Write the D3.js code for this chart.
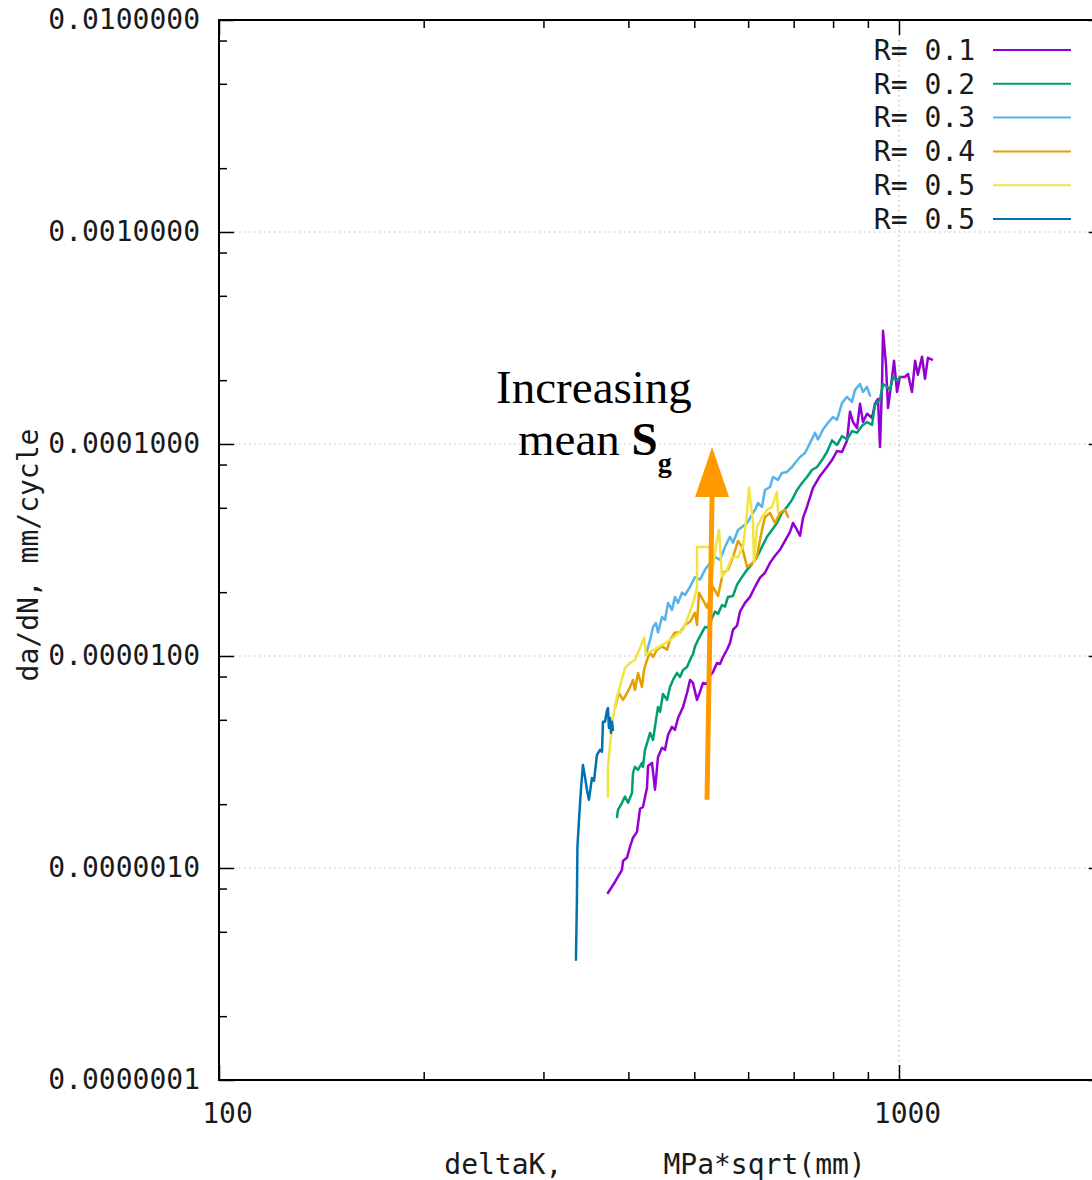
<!DOCTYPE html>
<html>
<head>
<meta charset="utf-8">
<script src="https://cdn.jsdelivr.net/npm/d3@7"></script>
<style>
  html, body { margin: 0; padding: 0; background: #fff; }
  svg { display: block; }
</style>
</head>
<body>
<svg id="chart" width="1092" height="1180"></svg>
<script>
// Fatigue crack growth rate vs stress intensity range, one series per load ratio R.
const seriesLabels = ["R= 0.1", "R= 0.2", "R= 0.3", "R= 0.4", "R= 0.5", "R= 0.5"];
const seriesColors = ["#9400d3", "#009e73", "#56b4e9", "#e69f00", "#f0e442", "#0072b2"];

// deltaK (MPa*sqrt(mm)) and da/dN (mm/cycle)
const deltaK_R01 = [373.2,382.2,391.4,392.8,398.2,402.2,406.3,411.8,416.0,420.2,426.0,427.5,433.3,437.7,442.2,448.2,452.8,457.4,463.6,468.3,473.2,481.3,487.8,492.8,497.8,504.6,509.7,514.9,521.9,527.3,532.7,539.9,545.5,551.0,558.5,564.2,570.0,577.9,583.7,593.6,603.8,614.1,624.6,635.2,646.1,657.1,668.3,679.7,691.4,698.4,708.0,715.2,722.5,732.3,747.3,765.3,783.6,797.0,810.6,824.5,838.6,847.1,855.7,867.5,876.3,885.2,897.3,912.7,921.9,931.4,937.7,944.1,947.3,957.0,963.5,976.6,983.3,993.3,1003,1020,1031,1045,1056,1066,1081,1092,1103,1118];
const dadN_R01 = [7.62e-7,8.59e-7,9.79e-7,1.08e-6,1.12e-6,1.26e-6,1.39e-6,1.48e-6,1.90e-6,1.94e-6,2.39e-6,3.03e-6,3.13e-6,2.34e-6,3.34e-6,3.69e-6,3.61e-6,4.24e-6,4.63e-6,4.48e-6,5.10e-6,5.75e-6,6.69e-6,7.71e-6,7.46e-6,6.21e-6,6.77e-6,7.46e-6,7.38e-6,8.05e-6,8.40e-6,9.27e-6,9.17e-6,9.89e-6,1.07e-5,1.15e-5,1.33e-5,1.39e-5,1.62e-5,1.78e-5,1.90e-5,2.12e-5,2.34e-5,2.47e-5,2.75e-5,2.97e-5,3.17e-5,3.49e-5,3.85e-5,4.24e-5,3.93e-5,3.69e-5,4.48e-5,5.05e-5,6.21e-5,7.07e-5,7.79e-5,8.40e-5,9.27e-5,9.17e-5,1.04e-4,1.42e-4,1.27e-4,1.19e-4,1.55e-4,1.27e-4,1.39e-4,1.33e-4,1.55e-4,1.63e-4,9.68e-5,1.90e-4,3.42e-4,2.36e-4,1.48e-4,2.05e-4,2.47e-4,1.76e-4,2.07e-4,2.07e-4,2.14e-4,1.76e-4,2.47e-4,2.12e-4,2.58e-4,2.03e-4,2.55e-4,2.50e-4];

const deltaK_R02 = [384.9,386.1,391.4,395.4,399.5,404.9,406.3,409.0,413.2,418.8,420.2,423.1,427.5,430.4,434.8,439.2,442.2,445.2,449.7,455.9,460.5,465.2,471.6,476.4,481.3,487.8,492.8,497.8,501.2,506.3,513.2,518.4,523.7,530.9,536.3,541.8,549.2,554.8,560.4,570.0,577.9,587.7,597.7,609.9,618.3,628.8,639.6,650.5,661.6,672.8,684.4,696.1,708.0,720.1,732.3,744.8,757.6,770.5,783.6,797.0,810.6,824.5,838.6,852.9,867.5,882.3,897.3,912.7,921.9,937.7,947.3,960.2,970.0,979.9,993.3,1003];
const dadN_R02 = [1.74e-6,1.88e-6,2.03e-6,2.17e-6,2.03e-6,2.26e-6,2.81e-6,3.00e-6,2.90e-6,3.13e-6,3.00e-6,3.61e-6,4.02e-6,4.34e-6,4.02e-6,5.00e-6,5.75e-6,5.45e-6,6.62e-6,6.21e-6,7.14e-6,7.71e-6,8.32e-6,7.96e-6,8.59e-6,8.87e-6,9.58e-6,1.02e-5,1.11e-5,1.19e-5,1.29e-5,1.37e-5,1.36e-5,1.51e-5,1.62e-5,1.58e-5,1.74e-5,1.71e-5,1.90e-5,1.92e-5,2.17e-5,2.36e-5,2.55e-5,2.75e-5,2.93e-5,3.27e-5,3.65e-5,3.93e-5,4.24e-5,4.73e-5,5.05e-5,5.45e-5,6.07e-5,6.55e-5,6.99e-5,7.54e-5,7.79e-5,8.40e-5,9.17e-5,1.04e-4,9.89e-5,1.09e-4,1.05e-4,1.15e-4,1.13e-4,1.22e-4,1.27e-4,1.23e-4,1.53e-4,1.62e-4,1.92e-4,1.86e-4,1.80e-4,2.07e-4,1.99e-4,2.07e-4];

const deltaK_R03 = [424.6,430.4,434.8,439.2,442.2,448.2,452.8,457.4,463.6,468.3,473.2,479.6,484.5,492.8,501.2,509.7,518.4,527.3,536.3,545.5,554.8,564.2,570.0,579.8,587.7,597.7,609.9,614.1,620.4,628.8,635.2,646.1,652.7,663.8,672.8,684.4,696.1,703.2,715.2,727.4,739.8,752.4,760.1,773.1,786.2,799.7,810.6,824.5,838.6,852.9,861.5,876.3,885.2,897.3,906.5];
const dadN_R03 = [1.02e-5,1.19e-5,1.37e-5,1.43e-5,1.29e-5,1.53e-5,1.48e-5,1.78e-5,1.65e-5,1.90e-5,1.78e-5,1.99e-5,1.94e-5,2.12e-5,2.36e-5,2.29e-5,2.55e-5,2.75e-5,2.93e-5,2.84e-5,3.27e-5,3.65e-5,3.42e-5,3.93e-5,4.06e-5,4.24e-5,4.73e-5,4.89e-5,5.27e-5,5.05e-5,6.07e-5,6.27e-5,6.99e-5,6.77e-5,7.30e-5,7.38e-5,7.79e-5,8.14e-5,8.68e-5,9.07e-5,1.01e-4,1.13e-4,1.05e-4,1.17e-4,1.26e-4,1.34e-4,1.30e-4,1.56e-4,1.67e-4,1.58e-4,1.80e-4,1.92e-4,1.76e-4,1.86e-4,1.69e-4];

const deltaK_R04 = [382.2,384.8,387.5,392.8,398.2,402.2,406.3,409.0,413.2,418.8,421.7,426.0,430.4,434.8,440.7,448.2,455.9,460.5,468.3,476.4,484.5,492.8,501.2,504.6,508.0,514.9,521.9,527.3,532.7,541.8,551.0,560.4,570.0,579.8,587.7,597.7,609.9,618.3,628.8,635.2,646.1,657.1,668.3,679.7,686.7];
const dadN_R04 = [5.69e-6,6.21e-6,6.69e-6,6.21e-6,6.69e-6,7.14e-6,7.71e-6,6.92e-6,8.32e-6,7.14e-6,8.59e-6,9.58e-6,1.04e-5,9.89e-6,1.07e-5,1.11e-5,1.07e-5,1.19e-5,1.29e-5,1.29e-5,1.40e-5,1.45e-5,1.60e-5,1.40e-5,1.99e-5,1.84e-5,1.69e-5,1.88e-5,2.12e-5,1.92e-5,2.47e-5,2.55e-5,2.93e-5,3.49e-5,3.27e-5,2.63e-5,2.75e-5,2.97e-5,3.93e-5,4.53e-5,4.73e-5,4.24e-5,4.73e-5,4.89e-5,4.53e-5];

const deltaK_R05a = [373.2,373.2,375.8,379.6,382.2,384.8,387.5,395.4,402.2,409.0,416.0,421.7,424.6,430.4,440.7,460.5,481.3,492.8,499.5,504.6,504.6,527.3,530.9,538.2,543.7,549.2,558.5,568.0,579.8,589.6,597.7,601.8,609.9,612.0,618.3,628.8,639.6,650.5,661.6,663.8];
const dadN_R05a = [2.17e-6,2.97e-6,3.81e-6,5.10e-6,5.75e-6,6.41e-6,6.92e-6,8.78e-6,9.27e-6,9.58e-6,1.09e-5,1.22e-5,1.01e-5,1.05e-5,1.09e-5,1.19e-5,1.33e-5,1.62e-5,1.84e-5,2.10e-5,3.27e-5,3.27e-5,2.47e-5,3.34e-5,3.93e-5,2.36e-5,2.55e-5,2.93e-5,2.93e-5,3.27e-5,4.73e-5,6.21e-5,4.24e-5,2.75e-5,4.06e-5,4.53e-5,4.89e-5,5.05e-5,5.94e-5,4.78e-5];

const deltaK_R05b = [334.9,336.0,336.6,338.4,340.6,342.9,345.3,347.6,350.0,353.6,356.0,359.6,363.3,365.8,367.0,369.5,371.9,373.2,374.5,375.8,377.1,378.3,379.6];
const dadN_R05b = [3.69e-7,7.07e-7,1.26e-6,1.69e-6,2.34e-6,3.06e-6,2.69e-6,2.34e-6,2.10e-6,2.66e-6,2.58e-6,3.42e-6,3.61e-6,3.53e-6,4.89e-6,4.89e-6,5.51e-6,5.69e-6,4.58e-6,5.10e-6,4.34e-6,4.89e-6,4.48e-6];

// Axis ticks
const xMajorTicks = [100, 1000];
const xTickLabels = ["100", "1000"];
const xMinorTicks = [200, 300, 400, 500, 600, 700, 800, 900];
const yMajorTicks = [1e-2, 1e-3, 1e-4, 1e-5, 1e-6, 1e-7];
const yTickLabels = ["0.0100000", "0.0010000", "0.0001000", "0.0000100", "0.0000010", "0.0000001"];
const yMinorTicks = [8e-3, 5e-3, 2e-3, 8e-4, 5e-4, 2e-4, 8e-5, 5e-5, 2e-5, 8e-6, 5e-6, 2e-6, 8e-7, 5e-7, 2e-7];
const xGridTicks = [1000];
const yGridTicks = [1e-3, 1e-4, 1e-5, 1e-6];

// Annotation: arrow and caption placed in data coordinates
const arrowTail = [522, 2.1e-6];
const arrowHeadBase = [531, 5.63e-5];
const arrowTip = [531, 9.68e-5];
const captionLine1 = [356, 1.56e-4];
const captionLine2 = [275.3, 8.87e-5];

const series = [
  [deltaK_R01, dadN_R01], [deltaK_R02, dadN_R02], [deltaK_R03, dadN_R03],
  [deltaK_R04, dadN_R04], [deltaK_R05a, dadN_R05a], [deltaK_R05b, dadN_R05b]
].map(([k, r], i) => ({
  label: seriesLabels[i],
  color: seriesColors[i],
  points: k.map((v, j) => [v, r[j]])
}));

const mono = "'DejaVu Sans Mono', monospace";
const svg = d3.select("#chart");

const plotLeft = 219, plotTop = 20, plotBottom = 1080;
const x = d3.scaleLog().domain([100, 2000]).range([plotLeft, plotLeft + 680 * Math.log10(20)]);
const y = d3.scaleLog().domain([1e-7, 1e-2]).range([plotBottom, plotTop]);
const plotRight = x.range()[1];

// grid
const grid = svg.append("g")
  .attr("stroke", "#bdbdbd")
  .attr("stroke-width", 1.2)
  .attr("stroke-dasharray", "1.5 3.5");
grid.selectAll("line.gy").data(yGridTicks).join("line")
  .attr("x1", plotLeft).attr("x2", plotRight)
  .attr("y1", d => y(d)).attr("y2", d => y(d));
grid.selectAll("line.gx").data(xGridTicks).join("line")
  .attr("x1", d => x(d)).attr("x2", d => x(d))
  .attr("y1", plotTop).attr("y2", plotBottom);

// axes and mirrored ticks
function styleAxis(g) {
  g.select(".domain").remove();
  g.selectAll("line").attr("stroke", "#000").attr("stroke-width", 1.5);
  g.attr("font-family", mono).attr("font-size", 28);
  g.selectAll("text").attr("fill", "#1a1a1a");
}
svg.append("g").attr("transform", `translate(0,${plotBottom})`)
  .call(d3.axisBottom(x).tickValues(xMajorTicks).tickFormat((d, i) => xTickLabels[i])
    .tickSizeInner(-15).tickSizeOuter(0).tickPadding(23))
  .call(styleAxis)
  .call(g => g.selectAll("text").attr("dx", 8));
svg.append("g").attr("transform", `translate(0,${plotBottom})`)
  .call(d3.axisBottom(x).tickValues(xMinorTicks).tickFormat("").tickSizeInner(-8).tickSizeOuter(0))
  .call(styleAxis);
svg.append("g").attr("transform", `translate(0,${plotTop})`)
  .call(d3.axisTop(x).tickValues(xMajorTicks).tickFormat("").tickSizeInner(-15).tickSizeOuter(0))
  .call(styleAxis);
svg.append("g").attr("transform", `translate(0,${plotTop})`)
  .call(d3.axisTop(x).tickValues(xMinorTicks).tickFormat("").tickSizeInner(-8).tickSizeOuter(0))
  .call(styleAxis);

svg.append("g").attr("transform", `translate(${plotLeft},0)`)
  .call(d3.axisLeft(y).tickValues(yMajorTicks).tickFormat((d, i) => yTickLabels[i])
    .tickSizeInner(-15).tickSizeOuter(0).tickPadding(19))
  .call(styleAxis);
svg.append("g").attr("transform", `translate(${plotLeft},0)`)
  .call(d3.axisLeft(y).tickValues(yMinorTicks).tickFormat("").tickSizeInner(-8).tickSizeOuter(0))
  .call(styleAxis);
svg.append("g").attr("transform", `translate(${plotRight},0)`)
  .call(d3.axisRight(y).tickValues(yMajorTicks).tickFormat("").tickSizeInner(-15).tickSizeOuter(0))
  .call(styleAxis);
svg.append("g").attr("transform", `translate(${plotRight},0)`)
  .call(d3.axisRight(y).tickValues(yMinorTicks).tickFormat("").tickSizeInner(-8).tickSizeOuter(0))
  .call(styleAxis);

// border
svg.append("rect")
  .attr("x", plotLeft).attr("y", plotTop)
  .attr("width", plotRight - plotLeft).attr("height", plotBottom - plotTop)
  .attr("fill", "none").attr("stroke", "#000").attr("stroke-width", 2);

// axis titles
svg.append("text")
  .attr("transform", "translate(38,555) rotate(-90)")
  .attr("text-anchor", "middle")
  .attr("font-family", mono).attr("font-size", 28).attr("fill", "#1a1a1a")
  .text("da/dN, mm/cycle");
svg.append("text")
  .attr("x", 655).attr("y", 1174)
  .attr("text-anchor", "middle")
  .style("white-space", "pre")
  .attr("font-family", mono).attr("font-size", 28).attr("fill", "#1a1a1a")
  .text("deltaK,      MPa*sqrt(mm)");

// data curves
const line = d3.line().x(d => x(d[0])).y(d => y(d[1]));
svg.append("g").selectAll("path").data(series).join("path")
  .attr("d", d => line(d.points))
  .attr("fill", "none")
  .attr("stroke", d => d.color)
  .attr("stroke-width", 2.5)
  .attr("stroke-linejoin", "round")
  .attr("stroke-linecap", "round");

// legend
const legend = svg.append("g");
series.forEach((s, i) => {
  const cy = 50 + i * 33.8;
  legend.append("text")
    .attr("x", 975).attr("y", cy).attr("dy", "0.35em")
    .attr("text-anchor", "end")
    .attr("font-family", mono).attr("font-size", 28).attr("fill", "#1a1a1a")
    .text(s.label);
  legend.append("line")
    .attr("x1", 993).attr("x2", 1071).attr("y1", cy).attr("y2", cy)
    .attr("stroke", s.color).attr("stroke-width", 2);
});

// annotation arrow
const arrowColor = "#ff9900";
svg.append("line")
  .attr("x1", x(arrowTail[0])).attr("y1", y(arrowTail[1]))
  .attr("x2", x(arrowHeadBase[0])).attr("y2", y(arrowHeadBase[1]))
  .attr("stroke", arrowColor).attr("stroke-width", 5);
const hx = x(arrowHeadBase[0]), hy = y(arrowHeadBase[1]);
svg.append("polygon")
  .attr("points", [[hx - 17, hy], [hx + 17, hy], [x(arrowTip[0]), y(arrowTip[1])]].map(p => p.join(",")).join(" "))
  .attr("fill", arrowColor);

const serif = "'Liberation Serif', 'Times New Roman', serif";
svg.append("text")
  .attr("x", x(captionLine1[0])).attr("y", y(captionLine1[1]))
  .attr("text-anchor", "middle")
  .attr("font-family", serif).attr("font-size", 47).attr("fill", "#000")
  .text("Increasing");
const t2 = svg.append("text")
  .attr("x", x(captionLine2[0])).attr("y", y(captionLine2[1]))
  .attr("font-family", serif).attr("font-size", 47).attr("fill", "#000")
  .style("white-space", "pre");
t2.append("tspan").text("mean ");
t2.append("tspan").attr("font-weight", "bold").text("S");
t2.append("tspan").attr("font-weight", "bold").attr("font-size", 28).attr("dy", 17).text("g");
</script>
</body>
</html>
